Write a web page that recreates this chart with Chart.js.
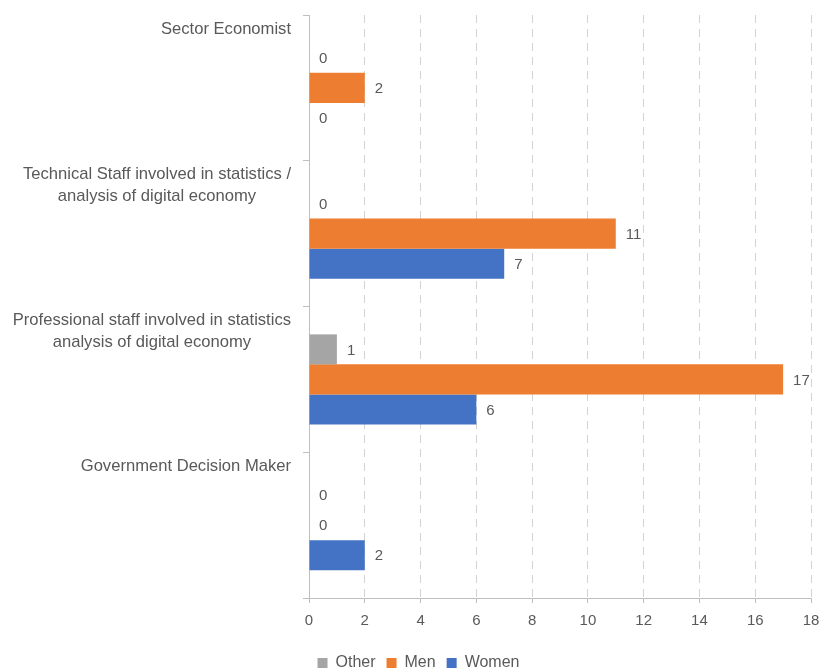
<!DOCTYPE html>
<html>
<head>
<meta charset="utf-8">
<script src="https://cdn.jsdelivr.net/npm/chart.js@4.4.0/dist/chart.umd.min.js"></script>
<style>
  html, body { margin: 0; padding: 0; background: #fff; }
  #contenedor { width: 822px; height: 671px; }
</style>
</head>
<body>
<div id="contenedor"><canvas id="grafico"></canvas></div>
<script>
// categorias de arriba hacia abajo
const categorias = [
    ['Sector Economist'],
    ['Technical Staff involved in statistics /', 'analysis of digital economy'],
    ['Professional staff involved in statistics', 'analysis of digital economy'],
    ['Government Decision Maker']
];
const valoresOther = [0, 0, 1, 0];
const valoresMen = [2, 11, 17, 0];
const valoresWomen = [0, 7, 6, 2];
const ticksX = [0, 2, 4, 6, 8, 10, 12, 14, 16, 18];

const FUENTE = '"Liberation Sans", Arial, sans-serif';
const GRIS_TEXTO = '#595959';

// etiquetas de categoria arriba de cada banda, alineadas a la derecha
const etiquetasCategoria = {
    id: 'etiquetasCategoria',
    afterDraw(chart) {
        const ctx = chart.ctx;
        const y = chart.scales.y;
        const banda = (y.bottom - y.top) / categorias.length;
        ctx.save();
        ctx.font = '16.6px ' + FUENTE;
        ctx.fillStyle = GRIS_TEXTO;
        ctx.textAlign = 'center';
        ctx.textBaseline = 'middle';
        categorias.forEach((lineas, i) => {
            var ancho = Math.max(...lineas.map(l => ctx.measureText(l).width));
            var centroX = 291 - ancho / 2;
            var arriba = y.top + banda * i;
            lineas.forEach((linea, j) => {
                ctx.fillText(linea, centroX, arriba + 14 + j * 22);
            });
        });
        ctx.restore();
    }
};

// numero al final de cada barra
const etiquetasValor = {
    id: 'etiquetasValor',
    afterDatasetsDraw(chart) {
        const ctx = chart.ctx;
        ctx.save();
        ctx.font = '15px ' + FUENTE;
        ctx.fillStyle = GRIS_TEXTO;
        ctx.textAlign = 'left';
        ctx.textBaseline = 'middle';
        chart.data.datasets.forEach((ds, d) => {
            chart.getDatasetMeta(d).data.forEach((barra, i) => {
                ctx.fillText(String(ds.data[i]), barra.x + 10, barra.y + 1);
            });
        });
        ctx.restore();
    }
};

new Chart(document.getElementById('grafico'), {
    type: 'bar',
    data: {
        labels: categorias.map(l => l.join(' ')),
        datasets: [
            { label: 'Other', data: valoresOther, backgroundColor: '#A5A5A5' },
            { label: 'Men', data: valoresMen, backgroundColor: '#ED7D31' },
            { label: 'Women', data: valoresWomen, backgroundColor: '#4472C4' }
        ]
    },
    options: {
        indexAxis: 'y',
        responsive: true,
        maintainAspectRatio: false,
        animation: false,
        datasets: {
            bar: { categoryPercentage: 0.6175, barPercentage: 1 }
        },
        layout: { padding: { left: 26, right: 11, top: 15, bottom: -10 } },
        scales: {
            x: {
                min: 0,
                max: 18,
                afterBuildTicks(scale) {
                    scale.ticks = ticksX.map(v => ({ value: v }));
                },
                afterFit(scale) {
                    scale.height = 46;
                    scale.paddingRight = 11;
                },
                grid: {
                    color: c => c.index === 0 ? 'rgba(0,0,0,0)' : '#d3d3d3',
                    tickColor: '#bfbfbf',
                    tickLength: 5,
                    tickBorderDash: []
                },
                border: { display: true, color: '#bfbfbf', dash: [8, 6] },
                ticks: {
                    color: GRIS_TEXTO,
                    font: { size: 15, family: FUENTE },
                    padding: 9
                }
            },
            y: {
                afterFit(scale) { scale.width = 283; },
                grid: {
                    offset: true,
                    drawOnChartArea: false,
                    drawTicks: true,
                    tickLength: 6,
                    color: '#bfbfbf'
                },
                border: { display: true, color: '#bfbfbf' },
                ticks: { display: false }
            }
        },
        plugins: {
            legend: {
                position: 'bottom',
                labels: {
                    boxWidth: 10,
                    boxHeight: 10,
                    padding: 11,
                    color: GRIS_TEXTO,
                    font: { size: 16, family: FUENTE }
                }
            },
            tooltip: { enabled: false }
        }
    },
    plugins: [etiquetasCategoria, etiquetasValor]
});
</script>
</body>
</html>
